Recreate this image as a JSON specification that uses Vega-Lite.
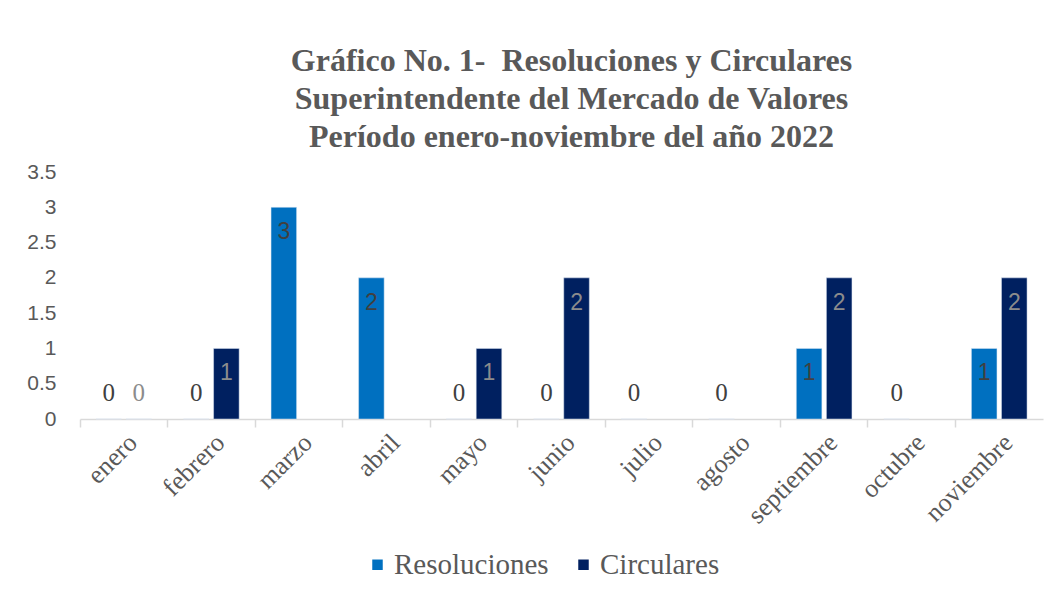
{
  "$schema": "https://vega.github.io/schema/vega-lite/v6.json",
  "width": 963,
  "height": 247,
  "autosize": {"type": "none"},
  "padding": {"left": 80, "top": 172, "right": 17, "bottom": 184},
  "background": "white",
  "config": {"view": {"stroke": null}},
  "title": {
    "text": ["Gráfico No. 1-\u00a0 Resoluciones y Circulares", "Superintendente del Mercado de Valores", "Período enero-noviembre del año 2022"],
    "font": "Liberation Serif",
    "fontSize": 32,
    "fontWeight": "bold",
    "color": "#595959",
    "lineHeight": 38,
    "anchor": "middle",
    "dx": 10,
    "offset": 7
  },
  "data": {
    "values": [
      {"mes": "enero", "serie": "Resoluciones", "valor": 0},
      {"mes": "enero", "serie": "Circulares", "valor": 0},
      {"mes": "febrero", "serie": "Resoluciones", "valor": 0},
      {"mes": "febrero", "serie": "Circulares", "valor": 1},
      {"mes": "marzo", "serie": "Resoluciones", "valor": 3},
      {"mes": "marzo", "serie": "Circulares", "valor": null},
      {"mes": "abril", "serie": "Resoluciones", "valor": 2},
      {"mes": "abril", "serie": "Circulares", "valor": null},
      {"mes": "mayo", "serie": "Resoluciones", "valor": 0},
      {"mes": "mayo", "serie": "Circulares", "valor": 1},
      {"mes": "junio", "serie": "Resoluciones", "valor": 0},
      {"mes": "junio", "serie": "Circulares", "valor": 2},
      {"mes": "julio", "serie": "Resoluciones", "valor": 0},
      {"mes": "julio", "serie": "Circulares", "valor": null},
      {"mes": "agosto", "serie": "Resoluciones", "valor": 0},
      {"mes": "agosto", "serie": "Circulares", "valor": null},
      {"mes": "septiembre", "serie": "Resoluciones", "valor": 1},
      {"mes": "septiembre", "serie": "Circulares", "valor": 2},
      {"mes": "octubre", "serie": "Resoluciones", "valor": 0},
      {"mes": "octubre", "serie": "Circulares", "valor": null},
      {"mes": "noviembre", "serie": "Resoluciones", "valor": 1},
      {"mes": "noviembre", "serie": "Circulares", "valor": 2}
    ]
  },
  "encoding": {
    "x": {
      "field": "mes",
      "type": "nominal",
      "sort": ["enero", "febrero", "marzo", "abril", "mayo", "junio", "julio", "agosto", "septiembre", "octubre", "noviembre"],
      "scale": {"paddingInner": 0, "paddingOuter": 0},
      "axis": {
        "title": null,
        "labelAngle": -45,
        "labelFont": "Liberation Serif",
        "labelFontSize": 26,
        "labelColor": "#595959",
        "labelPadding": 2,
        "domainColor": "#d9d9d9",
        "domainWidth": 1.5,
        "tickColor": "#d9d9d9",
        "tickWidth": 1.5,
        "tickSize": 8,
        "bandPosition": 0,
        "grid": false
      }
    },
    "xOffset": {
      "field": "serie",
      "type": "nominal",
      "sort": ["Resoluciones", "Circulares"],
      "scale": {"paddingInner": 0.15, "paddingOuter": 0.53}
    },
    "y": {
      "field": "valor",
      "type": "quantitative",
      "scale": {"domain": [0, 3.5]},
      "axis": {
        "title": null,
        "values": [0, 0.5, 1, 1.5, 2, 2.5, 3, 3.5],
        "format": "~g",
        "labelFont": "Liberation Sans",
        "labelFontSize": 21,
        "labelColor": "#595959",
        "labelPadding": 24,
        "domain": false,
        "ticks": false,
        "grid": false
      }
    }
  },
  "layer": [
    {
      "mark": {"type": "bar", "stroke": "#dce6f2", "strokeWidth": 0.5},
      "encoding": {
        "color": {
          "field": "serie",
          "type": "nominal",
          "sort": ["Resoluciones", "Circulares"],
          "scale": {"domain": ["Resoluciones", "Circulares"], "range": ["#0070C0", "#002060"]},
          "legend": {
            "title": null,
            "orient": "none",
            "legendX": 283,
            "legendY": 378,
            "direction": "horizontal",
            "symbolType": "square",
            "symbolSize": 110,
            "symbolStrokeWidth": 0,
            "labelFont": "Liberation Serif",
            "labelFontSize": 29,
            "labelColor": "#595959",
            "labelLimit": 400,
            "labelOffset": 2,
            "columnPadding": 20
          }
        }
      }
    },
    {
      "transform": [{"filter": "datum.valor > 0"}],
      "mark": {"type": "text", "font": "Liberation Sans", "fontSize": 23, "baseline": "middle", "dy": 25},
      "encoding": {
        "text": {"field": "valor", "type": "quantitative"},
        "color": {"condition": {"test": "datum.serie === 'Resoluciones'", "value": "#404040"}, "value": "#8c8c8c"}
      }
    },
    {
      "transform": [{"filter": "datum.valor === 0"}],
      "mark": {"type": "text", "font": "Liberation Serif", "fontSize": 25, "baseline": "middle", "dy": -26},
      "encoding": {
        "text": {"field": "valor", "type": "quantitative"},
        "color": {"condition": {"test": "datum.serie === 'Resoluciones'", "value": "#404040"}, "value": "#8c8c8c"}
      }
    }
  ]
}
